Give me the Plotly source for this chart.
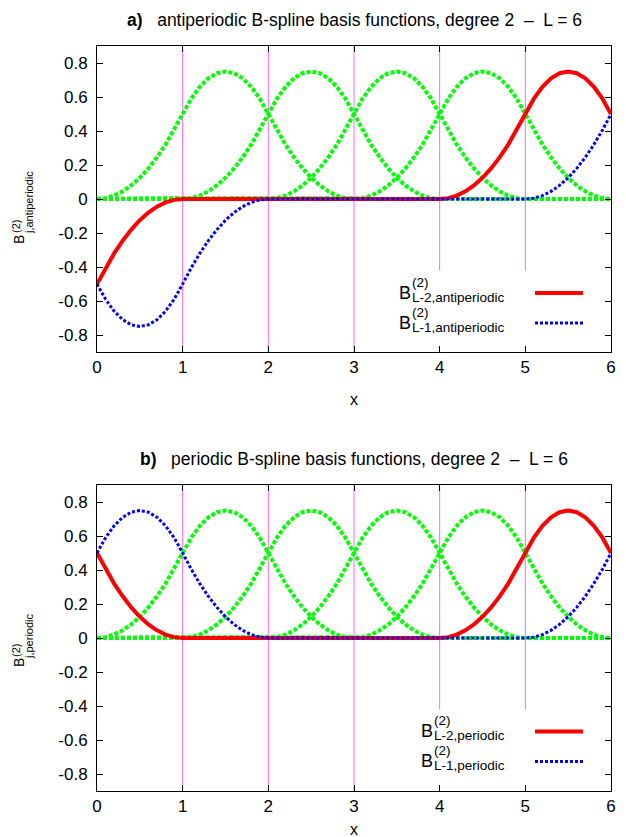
import plotly.graph_objects as go

# ---------------- data ----------------
L = 6                      # number of basis functions / period length
t_grid = [0.0, 0.1, 0.2, 0.3, 0.4, 0.5, 0.6, 0.7, 0.8, 0.9, 1.0,
          1.1, 1.2, 1.3, 1.4, 1.5, 1.6, 1.7, 1.8, 1.9, 2.0,
          2.1, 2.2, 2.3, 2.4, 2.5, 2.6, 2.7, 2.8, 2.9, 3.0]
# quadratic B-spline values over its support
bspline_values = [0.0, 0.005, 0.02, 0.045, 0.08, 0.125, 0.18, 0.245, 0.32, 0.405, 0.5,
                  0.59, 0.66, 0.71, 0.74, 0.75, 0.74, 0.71, 0.66, 0.59, 0.5,
                  0.405, 0.32, 0.245, 0.18, 0.125, 0.08, 0.045, 0.02, 0.005, 0.0]
basis_index = [0, 1, 2, 3, 4, 5]
knots = [1, 2, 3, 4, 5]
boundary_sign = [-1, 1]          # antiperiodic, periodic
boundary_name = ["antiperiodic", "periodic"]
panel_titles = ["<b>a)</b>\u00a0\u00a0 antiperiodic B-spline basis functions, degree 2 \u00a0\u2013\u00a0 L = 6",
                "<b>b)</b>\u00a0\u00a0 periodic B-spline basis functions, degree 2 \u00a0\u2013\u00a0 L = 6"]
y_ticks = [-0.8, -0.6, -0.4, -0.2, 0, 0.2, 0.4, 0.6, 0.8]
y_tick_labels = ["-0.8", "-0.6", "-0.4", "-0.2", "0", "0.2", "0.4", "0.6", "0.8"]
x_ticks = [0, 1, 2, 3, 4, 5, 6]
x_tick_labels = ["0", "1", "2", "3", "4", "5", "6"]
legend_names = ["L-2", "L-1"]
Y_MIN, Y_MAX = -0.9, 0.9
LEGEND_BOX_LEFT, LEGEND_BOX_TOP = 3.5, -0.42   # opaque key box hides the knot lines

# ---------------- layout geometry ----------------
W, H = 626, 837
ML, MR, MT, MB = 97, 15, 46, 46
PW, PH = W - ML - MR, H - MT - MB


def px(xp):
    return (xp - ML) / PW


def py(yp):
    return (H - MB - yp) / PH


FONT = "Liberation Sans, Arial, Helvetica, sans-serif"
GREEN = dict(color="#00ff00", width=4, dash="4px,2px")
RED = dict(color="#ff0000", width=4)
BLUE = dict(color="#0000ff", width=3, dash="3px,2px")
KNOT = dict(color="#ff66ff", width=1)


def basis_curve(j, sign):
    pts = {}
    for t, v in zip(t_grid, bspline_values):
        x = round(j + t, 6)
        val = v
        if x > L:
            x = round(x - L, 6)
            val = sign * v
        pts[x] = val
        if x == L:
            pts[0.0] = sign * v
    if 0.0 not in pts:
        pts[0.0] = 0.0
    if float(L) not in pts:
        pts[float(L)] = 0.0
    xs = sorted(pts)
    return xs, [pts[x] for x in xs]


fig = go.Figure()
axes = [("x", "y"), ("x2", "y2")]
for k, (xa, ya) in enumerate(axes):
    # knot lines first (underneath the curves)
    for kx in knots:
        y_low = LEGEND_BOX_TOP if kx > LEGEND_BOX_LEFT else Y_MIN
        fig.add_trace(go.Scatter(x=[kx, kx], y=[y_low, Y_MAX], mode="lines", line=KNOT,
                                 xaxis=xa, yaxis=ya, showlegend=False, hoverinfo="skip"))
    for j in basis_index:
        xs, ys = basis_curve(j, boundary_sign[k])
        style = GREEN if j < L - 2 else (RED if j == L - 2 else BLUE)
        fig.add_trace(go.Scatter(x=xs, y=ys, mode="lines", line=style,
                                 xaxis=xa, yaxis=ya, showlegend=False,
                                 hoverinfo="skip"))

shapes = []
annotations = []


def ann(text, xp, yp, size, xanchor="center", yanchor="middle", angle=0):
    annotations.append(dict(text=text, x=px(xp), y=py(yp), xref="paper", yref="paper",
                            xanchor=xanchor, yanchor=yanchor, textangle=angle,
                            showarrow=False, borderpad=0, borderwidth=0,
                            font=dict(family=FONT, size=size, color="black")))


# titles
title_y = [20, 459]
for k in range(2):
    ann(panel_titles[k], 354, title_y[k], 17.5)

# x axis labels
for yy in [399.5, 829]:
    ann("x", 354, yy, 16)

# rotated y labels (stacked super/subscript), all centre-anchored
ylab = [dict(b=240, sup=227, sub=203), dict(b=663, sup=651, sub=636)]
for k in range(2):
    ann("B", 19, ylab[k]["b"], 14, angle=-90)
    ann("(2)", 16, ylab[k]["sup"], 11, angle=-90)
    ann("j," + boundary_name[k], 29, ylab[k]["sub"], 11, angle=-90)

# keys (text left, sample line right)
leg_geo = [dict(xr=411, y0=292.5), dict(xr=433, y0=731)]
for k, (xa, ya) in enumerate(axes):
    for e in range(2):
        yc = leg_geo[k]["y0"] + 30 * e
        xr = leg_geo[k]["xr"]
        ann("B", xr, yc, 18, xanchor="right")
        ann("(2)", xr + 1, yc - 10.5, 13.5, xanchor="left")
        ann(legend_names[e] + "," + boundary_name[k], xr + 1, yc + 4.5, 13.5, xanchor="left")
        st = RED if e == 0 else BLUE
        shapes.append(dict(type="line", xref="paper", yref="paper", x0=px(535), x1=px(583),
                           y0=py(yc + 0.5), y1=py(yc + 0.5), line=st, layer="above"))

axis_common = dict(showgrid=False, zeroline=False, showline=True, mirror="ticks",
                   linecolor="black", linewidth=1, ticks="inside", ticklen=6,
                   tickcolor="black", tickwidth=1, automargin=False,
                   tickfont=dict(family=FONT, size=17, color="black"))

top_dom = [py(352), 1.0]
bot_dom = [0.0, py(485)]
fig.update_layout(
    width=W, height=H,
    margin=dict(l=ML, r=MR, t=MT, b=MB, pad=0, autoexpand=False),
    paper_bgcolor="white", plot_bgcolor="white",
    showlegend=False,
    xaxis=dict(range=[0, 6], domain=[0, 1], anchor="y", tickvals=x_ticks, ticktext=x_tick_labels,
               ticklabelstandoff=0, **axis_common),
    yaxis=dict(range=[Y_MIN, Y_MAX], domain=top_dom, anchor="x", tickvals=y_ticks,
               ticktext=y_tick_labels, ticklabelstandoff=5, **axis_common),
    xaxis2=dict(range=[0, 6], domain=[0, 1], anchor="y2", tickvals=x_ticks, ticktext=x_tick_labels,
                ticklabelstandoff=0, **axis_common),
    yaxis2=dict(range=[Y_MIN, Y_MAX], domain=bot_dom, anchor="x2", tickvals=y_ticks,
                ticktext=y_tick_labels, ticklabelstandoff=5, **axis_common),
    shapes=shapes,
    annotations=annotations,
)

fig.write_html("out.html", config={"displayModeBar": False},
               post_script="document.body.style.margin='0px';document.body.style.padding='0px';")
